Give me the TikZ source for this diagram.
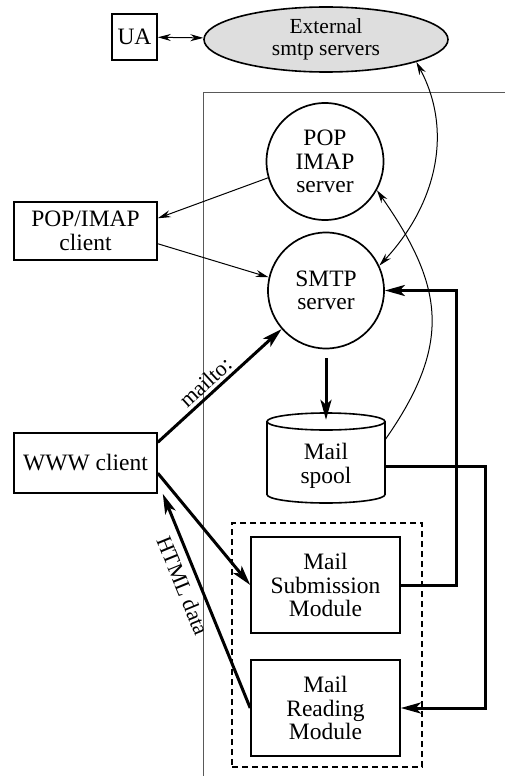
\documentclass[tikz,border=0pt]{standalone}
\usepackage{fontspec}
\setmainfont{Liberation Serif}
\usetikzlibrary{arrows.meta,shapes.geometric}
\begin{document}
\begin{tikzpicture}[x=1pt,y=1pt,
  txt/.style={font=\fontsize{23.5}{23.5}\selectfont, align=center, inner sep=0pt},
  box/.style={txt, draw, line width=1.6pt},
  circ/.style={txt, draw, circle, line width=1.7pt},
  thinarr/.style={line width=1pt, -{Stealth[length=13pt,width=7pt]}},
  thinboth/.style={line width=1pt, {Stealth[length=13pt,width=7pt]}-{Stealth[length=13pt,width=7pt]}},
  thickarr/.style={line width=3pt, -{Stealth[length=20pt,width=11pt,inset=5pt]}},
  lbl/.style={font=\fontsize{22}{22}\selectfont, inner sep=0pt}
]
\useasboundingbox (0,0) rectangle (505,-776);

% outer frame
\draw[line width=0.9pt, black!65] (505,-92.5) -- (203.5,-92.5) -- (203.5,-776);

% nodes
\node[box, minimum width=45, minimum height=46] (ua) at (134.5,-37) {UA};
\node[draw, ellipse, line width=1.6pt, fill=black!13, minimum width=244, minimum height=65,
      inner sep=0pt, align=center, font=\fontsize{21.5}{22}\selectfont] (ext) at (326,-39.5) {External\\smtp servers};
\node[circ, minimum size=117] (pop) at (325,-161.5) {POP\\IMAP\\server};
\node[circ, minimum size=116] (smtp) at (326,-290.5) {SMTP\\server};
\node[box, minimum width=143, minimum height=58] (popc) at (85.5,-231) {POP/IMAP\\client};
\node[box, minimum width=143, minimum height=60] (www) at (85.5,-463) {WWW client};

% mail spool cylinder
\draw[line width=1.6pt] (326,-421.5) ellipse [x radius=59, y radius=8.5];
\draw[line width=1.6pt] (267,-421.5) -- (267,-494.5) arc[start angle=180, end angle=360, x radius=59, y radius=8.5] -- (385,-421.5);
\node[txt, minimum width=118, minimum height=74] (spool) at (326,-466) {Mail\\spool};

\node[draw, dashed, line width=1.2pt, dash pattern=on 6pt off 4pt, minimum width=190, minimum height=244, inner sep=0pt] (grp) at (327,-645) {};
\node[box, minimum width=149, minimum height=96] (sub) at (325.5,-585) {Mail\\Submission\\Module};
\node[box, minimum width=149, minimum height=96] (read) at (325.5,-708) {Mail\\Reading\\Module};

\coordinate (rx1) at (456,0);
\coordinate (rx2) at (485,0);

% connectors
\draw[thinboth] (ua) -- (ext);
\draw[thinboth] (ext.-14) to[out=-62, in=47] (smtp.25);
\draw[thinarr] (spool.24) to[out=55, in=-55, looseness=1.2] (pop.-29);
\draw[thinarr] (pop.196) -- (popc.10);
\draw[thinarr] (popc.-10) -- (smtp.167);
\draw[thickarr] (www.16) -- node[lbl, sloped, above=3pt, pos=0.45] {mailto:} (smtp.221);
\draw[thickarr] (www.-8) -- (sub.west);
\draw[thickarr] (read.west) -- node[lbl, sloped, below=7pt, pos=0.6] {HTML data} ([xshift=5pt]www.south east);
\draw[thickarr, shorten <=9pt] (smtp.south) -- ([yshift=9pt]spool.north);
\draw[thickarr] (sub.east) -| (rx1 |- smtp.east) -- (smtp.east);
\draw[thickarr] (spool.east) -| (rx2 |- read.east) -- (read.east);
\end{tikzpicture}
\end{document}
